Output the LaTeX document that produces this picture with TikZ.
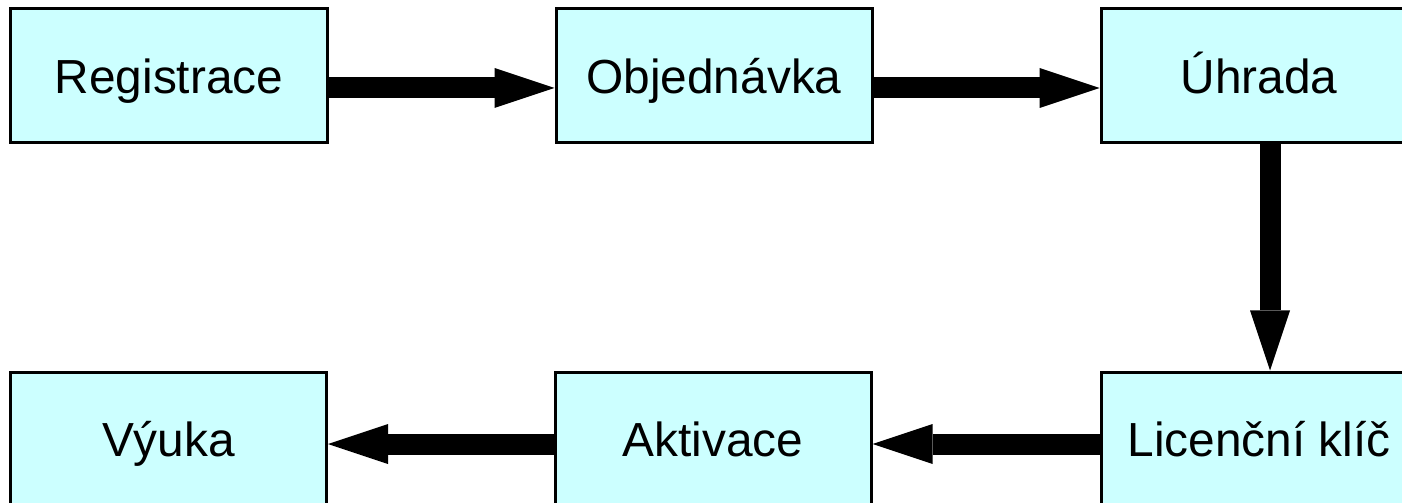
\documentclass[tikz,border=0pt]{standalone}
\usepackage{fontspec}
\setmainfont{Liberation Sans}
\usetikzlibrary{arrows.meta,calc}
\definecolor{boxfill}{HTML}{CCFFFF}
\tikzset{
  stepbox/.style={draw=black, line width=3bp, fill=boxfill, minimum width=316bp, minimum height=134bp, inner sep=0pt, text height=35bp, text depth=0pt, font=\fontsize{48}{56}\selectfont},
  bigarrow/.style={line width=21bp, black, -{Triangle[length=60bp,width=40bp,line width=0pt]}}
}
\begin{document}
\begin{tikzpicture}[x=1bp,y=-1bp]
\useasboundingbox (0,0) rectangle (1402,503);
\node[stepbox] (reg) at (169,76) {Registrace};
\node[stepbox] (obj) at (714,76) {Objednávka};
\node[stepbox] (uhr) at (1259,76) {Úhrada};
\node[stepbox] (lic) at (1259,439) {Licenční klíč};
\node[stepbox] (akt) at (713,439) {Aktivace};
\node[stepbox] (vyu) at (168.5,439) {Výuka};
\draw[bigarrow] ($(reg.east)+(0,12)$) -- ($(obj.west)+(0,12)$);
\draw[bigarrow] ($(obj.east)+(0,12)$) -- ($(uhr.west)+(0,12)$);
\draw[bigarrow] ($(uhr.south)+(11,0)$) -- ($(lic.north)+(11,0)$);
\draw[bigarrow] ($(lic.west)+(0,5)$) -- ($(akt.east)+(0,5)$);
\draw[bigarrow] ($(akt.west)+(0,5)$) -- ($(vyu.east)+(0,5)$);
\end{tikzpicture}
\end{document}
